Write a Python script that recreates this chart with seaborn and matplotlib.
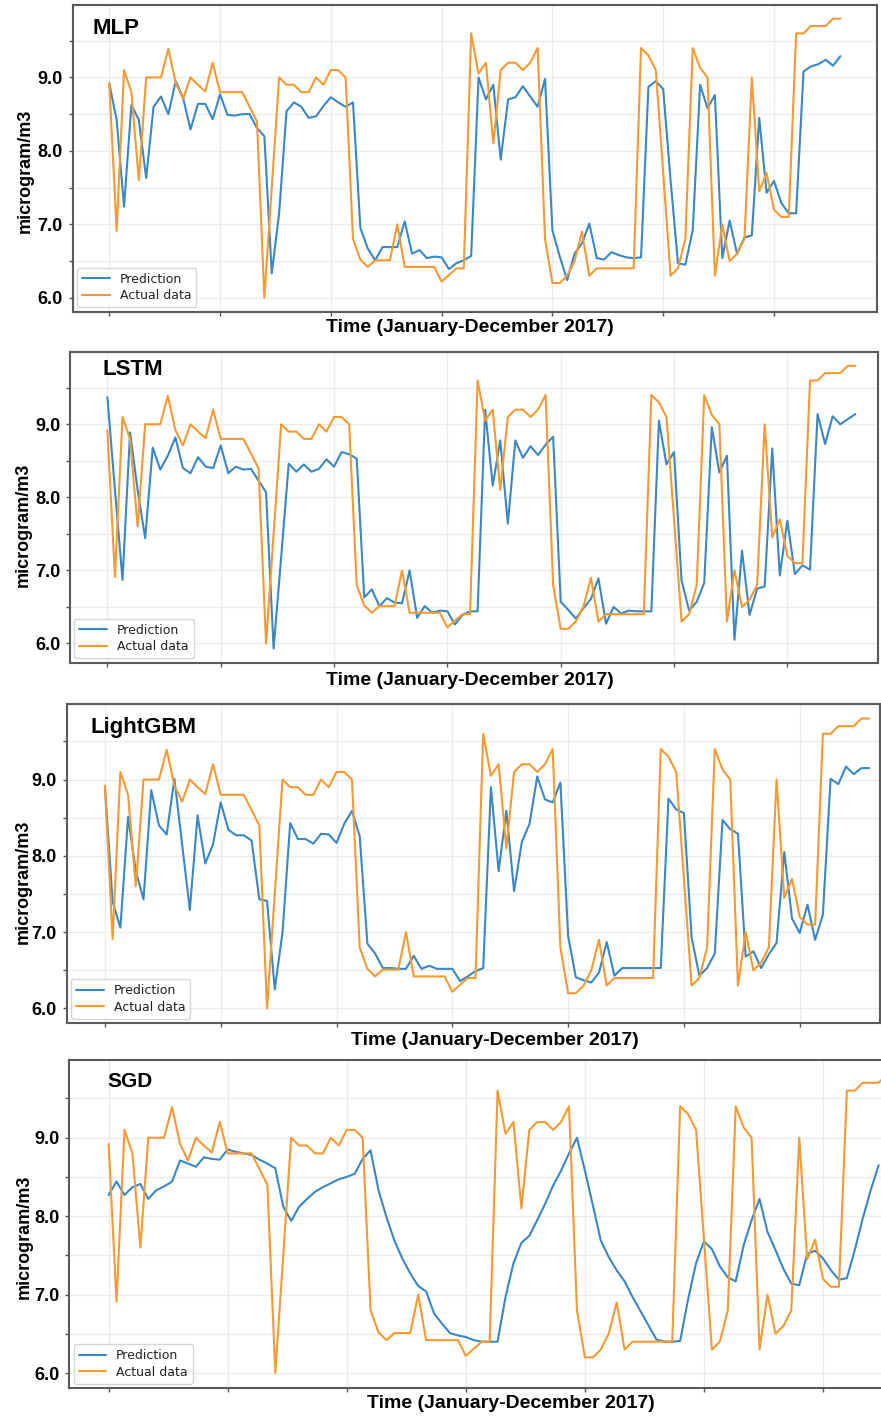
import numpy as np
import pandas as pd
import matplotlib
matplotlib.use("Agg")
import matplotlib.pyplot as plt
import seaborn as sns
from matplotlib.ticker import FixedLocator, FuncFormatter

# ---------------- data ----------------
time_index = list(range(100))

actual = [8.92, 6.91, 9.10, 8.80, 7.60, 9.00, 9.00, 9.00, 9.39, 8.92,
          8.71, 9.00, 8.90, 8.81, 9.20, 8.80, 8.80, 8.80, 8.80, 8.60,
          8.40, 6.00, 7.50, 9.00, 8.90, 8.90, 8.80, 8.80, 9.00, 8.90,
          9.10, 9.10, 9.00, 6.80, 6.52, 6.42, 6.51, 6.51, 6.51, 7.00,
          6.42, 6.42, 6.42, 6.42, 6.42, 6.22, 6.31, 6.40, 6.40, 9.60,
          9.05, 9.20, 8.10, 9.10, 9.20, 9.20, 9.10, 9.20, 9.40, 6.80,
          6.20, 6.20, 6.30, 6.50, 6.90, 6.30, 6.40, 6.40, 6.40, 6.40,
          6.40, 6.40, 9.40, 9.30, 9.10, 7.70, 6.30, 6.40, 6.80, 9.40,
          9.13, 9.00, 6.30, 7.00, 6.50, 6.60, 6.80, 9.00, 7.45, 7.70,
          7.20, 7.10, 7.10, 9.60, 9.60, 9.70, 9.70, 9.70, 9.80, 9.80]

mlp_pred = [8.92, 8.42, 7.24, 8.63, 8.42, 7.63, 8.60, 8.74, 8.50, 8.95,
            8.72, 8.29, 8.64, 8.64, 8.43, 8.77, 8.49, 8.48, 8.50, 8.50,
            8.31, 8.20, 6.33, 7.15, 8.54, 8.66, 8.60, 8.45, 8.47, 8.61,
            8.73, 8.66, 8.60, 8.66, 6.95, 6.67, 6.51, 6.69, 6.69, 6.69,
            7.04, 6.60, 6.65, 6.54, 6.56, 6.55, 6.39, 6.47, 6.51, 6.57,
            9.00, 8.70, 8.90, 7.88, 8.70, 8.73, 8.88, 8.74, 8.60, 8.98,
            6.92, 6.56, 6.24, 6.60, 6.74, 7.01, 6.54, 6.52, 6.62, 6.58,
            6.55, 6.54, 6.55, 8.87, 8.95, 8.84, 7.60, 6.47, 6.45, 6.92,
            8.90, 8.58, 8.76, 6.54, 7.05, 6.60, 6.82, 6.85, 8.45, 7.43,
            7.59, 7.29, 7.15, 7.15, 9.08, 9.15, 9.18, 9.24, 9.16, 9.29]

lstm_pred = [9.37, 8.10, 6.87, 8.89, 8.10, 7.44, 8.68, 8.38, 8.57, 8.82,
             8.40, 8.33, 8.55, 8.42, 8.40, 8.71, 8.33, 8.42, 8.38, 8.39,
             8.23, 8.07, 5.93, 7.18, 8.46, 8.35, 8.45, 8.35, 8.39, 8.52,
             8.42, 8.62, 8.59, 8.53, 6.63, 6.74, 6.51, 6.62, 6.56, 6.55,
             7.00, 6.35, 6.51, 6.42, 6.45, 6.44, 6.26, 6.39, 6.44, 6.44,
             9.20, 8.16, 8.78, 7.64, 8.78, 8.54, 8.70, 8.58, 8.72, 8.83,
             6.57, 6.46, 6.34, 6.48, 6.61, 6.89, 6.27, 6.50, 6.41, 6.45,
             6.44, 6.44, 6.44, 9.05, 8.45, 8.62, 6.86, 6.45, 6.57, 6.83,
             8.96, 8.34, 8.57, 6.05, 7.27, 6.39, 6.75, 6.78, 8.67, 6.93,
             7.68, 6.95, 7.07, 7.01, 9.14, 8.73, 9.11, 9.00, 9.07, 9.14]

lgbm_pred = [8.90, 7.40, 7.06, 8.51, 7.80, 7.43, 8.86, 8.40, 8.28, 9.01,
             8.15, 7.29, 8.53, 7.90, 8.15, 8.70, 8.34, 8.27, 8.27, 8.20,
             7.43, 7.41, 6.25, 6.99, 8.43, 8.22, 8.22, 8.16, 8.29, 8.28,
             8.17, 8.42, 8.59, 8.26, 6.85, 6.72, 6.53, 6.53, 6.52, 6.52,
             6.69, 6.52, 6.56, 6.52, 6.52, 6.52, 6.36, 6.42, 6.49, 6.53,
             8.90, 7.80, 8.59, 7.54, 8.18, 8.42, 9.04, 8.74, 8.70, 8.96,
             6.95, 6.41, 6.37, 6.34, 6.47, 6.87, 6.43, 6.53, 6.53, 6.53,
             6.53, 6.53, 6.53, 8.75, 8.61, 8.56, 6.93, 6.43, 6.53, 6.72,
             8.47, 8.35, 8.29, 6.68, 6.75, 6.53, 6.71, 6.86, 8.05, 7.18,
             6.99, 7.36, 6.90, 7.23, 9.01, 8.94, 9.17, 9.07, 9.15, 9.15]

sgd_pred = [8.27, 8.44, 8.27, 8.37, 8.41, 8.22, 8.33, 8.38, 8.44, 8.71,
            8.67, 8.63, 8.75, 8.73, 8.72, 8.85, 8.82, 8.80, 8.78, 8.72,
            8.67, 8.61, 8.12, 7.94, 8.12, 8.22, 8.31, 8.37, 8.42, 8.47,
            8.50, 8.54, 8.73, 8.84, 8.33, 7.99, 7.69, 7.46, 7.27, 7.11,
            7.04, 6.76, 6.63, 6.51, 6.48, 6.46, 6.42, 6.40, 6.40, 6.40,
            6.97, 7.40, 7.66, 7.75, 7.95, 8.16, 8.39, 8.58, 8.80, 9.00,
            8.58, 8.14, 7.69, 7.48, 7.31, 7.17, 6.97, 6.79, 6.61, 6.43,
            6.40, 6.40, 6.41, 6.94, 7.40, 7.68, 7.58, 7.36, 7.22, 7.17,
            7.63, 7.95, 8.22, 7.80, 7.57, 7.33, 7.14, 7.12, 7.52, 7.56,
            7.46, 7.31, 7.19, 7.21, 7.57, 7.97, 8.33, 8.65]

model_names = ["MLP", "LSTM", "LightGBM", "SGD"]
predictions = [mlp_pred, lstm_pred, lgbm_pred, sgd_pred]
legend_labels = ["Prediction", "Actual data"]
xlabel_text = "Time (January-December 2017)"
ylabel_text = "microgram/m3"
ytick_labeled = [6.0, 7.0, 8.0, 9.0]
ytick_all = [6.0, 6.5, 7.0, 7.5, 8.0, 8.5, 9.0, 9.5]
xtick_positions = [0, 15, 30, 45, 60, 75, 90]

# ---------------- style ----------------
sns.set_style("whitegrid")
plt.rcParams['font.family'] = ['Liberation Sans', 'DejaVu Sans']
plt.rcParams['text.color'] = 'black'
plt.rcParams['axes.labelcolor'] = 'black'
plt.rcParams['ytick.labelcolor'] = 'black'

BLUE = "#3a87c4"
ORANGE = "#f59a33"
W, H = 881, 1416
fig = plt.figure(figsize=(W / 100, H / 100), dpi=100)

# panel geometry in pixels: left, top, right, bottom
boxes = [(72.7, 4.7, 877, 311.7), (70, 351.7, 878, 662.7),
         (66.7, 704, 880, 1023), (69.3, 1060, 881, 1388)]
xlim_right = [103.95, 102.0, 100.4, 97.3]
title_pos = [(93, 34), (103, 375), (91, 733), (107, 1087)]
title_size = [16, 16, 16, 15]
xlabel_pos = [(470, 319), (470, 672), (495, 1032), (511, 1395)]
ylabel_pos = [(33.5, 171), (32, 525), (32, 882), (33, 1237)]

for k, name in enumerate(model_names):
    l, t, r, b = boxes[k]
    ax = fig.add_axes([l / W, 1 - b / H, (r - l) / W, (b - t) / H])
    pred = predictions[k]
    df = pd.DataFrame({"t": time_index, "actual": actual})
    dfp = pd.DataFrame({"t": time_index[:len(pred)], "pred": pred})
    sns.lineplot(data=dfp, x="t", y="pred", ax=ax, color=BLUE, lw=1.5,
                 label=legend_labels[0])
    sns.lineplot(data=df, x="t", y="actual", ax=ax, color=ORANGE, lw=1.5,
                 label=legend_labels[1])

    ax.set_xlim(-4.95, xlim_right[k])
    ax.margins(y=0.05)
    ax.set_xticks(xtick_positions)
    ax.set_xticklabels([])
    ax.yaxis.set_major_locator(FixedLocator(ytick_all))
    ax.yaxis.set_major_formatter(FuncFormatter(
        lambda v, p: f"{v:.1f}" if round(v, 1) in ytick_labeled else ""))
    ax.tick_params(axis="both", which="major", length=3, width=1,
                   color="#555555", left=True, bottom=True)
    ax.tick_params(axis="y", labelsize=13, pad=4, labelcolor="black")
    for lab in ax.get_yticklabels():
        lab.set_fontweight("bold")
    ax.grid(True, color="#ececec", lw=1.0)
    for side, sp in ax.spines.items():
        sp.set_color("#5a5a5a")
        sp.set_linewidth(1.5)
    if k == 3:
        ax.spines["right"].set_visible(False)

    ax.set_xlabel(xlabel_text, fontsize=14, fontweight="bold", color="black")
    ax.set_ylabel(ylabel_text, fontsize=13, fontweight="bold", color="black")
    xp, yp = xlabel_pos[k]
    ax.xaxis.set_label_coords(xp / W, 1 - yp / H, transform=fig.transFigure)
    xq, yq = ylabel_pos[k]
    ax.yaxis.set_label_coords(xq / W, 1 - yq / H, transform=fig.transFigure)

    tx, ty = title_pos[k]
    fig.text(tx / W, 1 - ty / H, name, fontsize=title_size[k],
             fontweight="bold", va="baseline", ha="left", color="black")

    leg = ax.legend(loc="lower left", handlelength=2.2,
                    labelspacing=0.3, borderaxespad=0.35, frameon=True,
                    prop={"family": "DejaVu Sans", "size": 9})
    for txt in leg.get_texts():
        txt.set_color("#222222")

fig.savefig("out.png", dpi=100)
